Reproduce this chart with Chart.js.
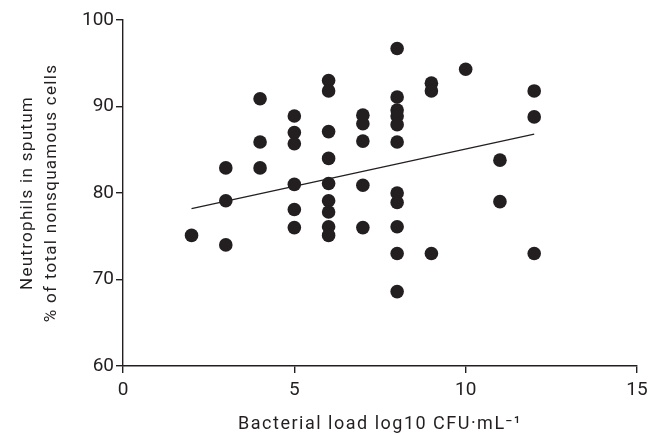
<!DOCTYPE html>
<html>
<head>
<meta charset="utf-8">
<script src="https://cdn.jsdelivr.net/npm/chart.js@4/dist/chart.umd.min.js"></script>
<style>
  html, body { margin: 0; padding: 0; background: #ffffff; }
  #wrap { width: 662px; height: 435px; }
</style>
</head>
<body>
<div id="wrap"><canvas id="c" width="662" height="435"></canvas></div>
<script>
// Bacterial load (log10 CFU/mL) for each patient
const bacterialLoad = [
  2,
  3, 3, 3,
  4, 4, 4,
  5, 5, 5, 5, 5, 5,
  6, 6, 6, 6, 6, 6, 6, 6, 6,
  7, 7, 7, 7, 7,
  8, 8, 8, 8, 8, 8, 8, 8, 8, 8, 8,
  9, 9, 9,
  10,
  11, 11,
  12, 12, 12
];
// Neutrophils in sputum (% of total nonsquamous cells)
const neutrophils = [
  75.1,
  82.9, 79.1, 74.0,
  90.9, 85.9, 82.9,
  88.9, 87.0, 85.7, 81.0, 78.1, 76.0,
  93.0, 91.8, 87.1, 84.0, 81.1, 79.1, 77.8, 76.1, 75.1,
  89.0, 88.0, 86.0, 80.9, 76.0,
  96.7, 91.1, 89.6, 88.9, 87.9, 85.9, 80.0, 78.9, 76.1, 73.0, 68.6,
  92.7, 91.8, 73.0,
  94.3,
  83.8, 79.0,
  91.8, 88.8, 73.0
];
// Regression line end points
const fitX = [2, 12];
const fitY = [78.2, 86.8];

const xTicks = [0, 5, 10, 15];
const yTicks = [60, 70, 80, 90, 100];

const ink = '#231f20';
const fontFam = 'Roboto, "DejaVu Sans", sans-serif';

const scatterData = bacterialLoad.map((x, i) => ({ x: x, y: neutrophils[i] }));
const fitData = fitX.map((x, i) => ({ x: x, y: fitY[i] }));

// draw axis titles with slightly wider letter spacing
function spacedTitle(s, spacing) {
  if (s._spacedPatched) return;
  s._spacedPatched = true;
  const orig = s.drawTitle;
  s.drawTitle = function () {
    const ctx = this.ctx;
    const prev = ctx.letterSpacing;
    ctx.letterSpacing = spacing;
    orig.apply(this, arguments);
    ctx.letterSpacing = prev || '0px';
  };
}

new Chart(document.getElementById('c'), {
  type: 'scatter',
  data: {
    datasets: [
      {
        type: 'line',
        data: fitData,
        borderColor: ink,
        borderWidth: 1.3,
        pointRadius: 0,
        fill: false,
        order: 2
      },
      {
        data: scatterData,
        backgroundColor: ink,
        borderColor: ink,
        borderWidth: 0,
        pointRadius: 6.8,
        order: 1
      }
    ]
  },
  options: {
    responsive: false,
    animation: false,
    devicePixelRatio: 1,
    layout: { padding: { top: 20, right: 25, bottom: 0, left: 0 } },
    plugins: { legend: { display: false }, tooltip: { enabled: false } },
    scales: {
      x: {
        type: 'linear',
        min: 0, max: 15,
        afterBuildTicks: s => { s.ticks = xTicks.map(v => ({ value: v })); },
        afterFit: s => { s.height = 69; spacedTitle(s, '1.5px'); },
        border: { color: ink, width: 1.4 },
        grid: { drawOnChartArea: false, drawTicks: true, tickLength: 7, color: ink, lineWidth: 1.4 },
        ticks: { color: ink, font: { family: fontFam, size: 19 }, padding: 6, maxRotation: 0 },
        title: {
          display: true,
          text: 'Bacterial load log10 CFU·mL⁻¹',
          color: ink,
          font: { family: fontFam, size: 18 },
          padding: { top: 8, bottom: 0 }
        }
      },
      y: {
        type: 'linear',
        min: 60, max: 100,
        afterBuildTicks: s => { s.ticks = yTicks.map(v => ({ value: v })); },
        afterFit: s => { s.width = 123; spacedTitle(s, '1.3px'); },
        border: { color: ink, width: 1.4 },
        grid: { drawOnChartArea: false, drawTicks: true, tickLength: 7, color: ink, lineWidth: 1.4 },
        ticks: { color: ink, font: { family: fontFam, size: 19 }, padding: 2 },
        title: {
          display: true,
          text: ['Neutrophils in sputum', '% of total nonsquamous cells'],
          color: ink,
          font: { family: fontFam, size: 17, lineHeight: 1.45 },
          padding: { top: 15, bottom: 0 }
        }
      }
    }
  }
});
</script>
</body>
</html>
